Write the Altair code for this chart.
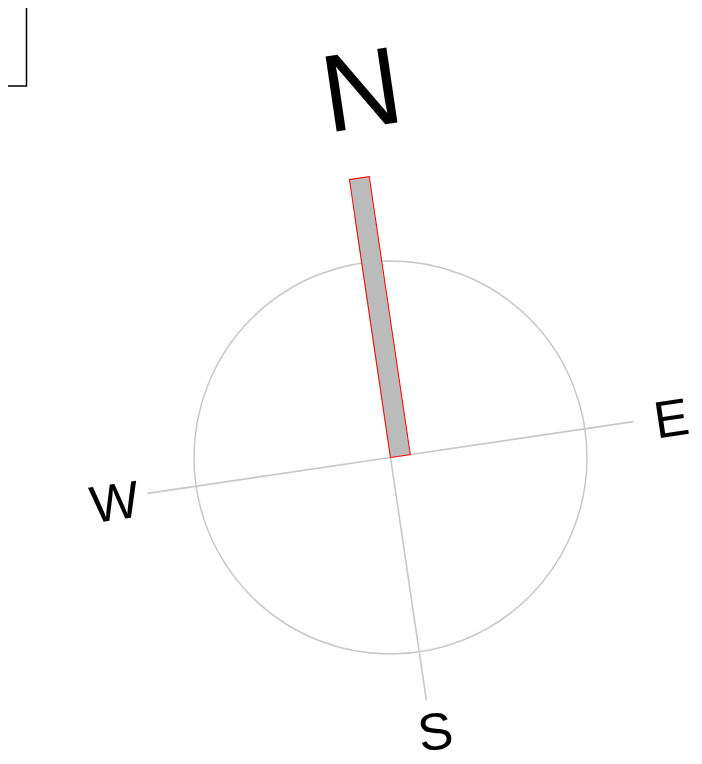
import math
import altair as alt
import pandas as pd

# ---- data ----
directions = ["N", "E", "S", "W"]
bearings = [0, 90, 180, 270]          # degrees clockwise from north
rotation = 8.4                          # compass rotated counter-clockwise (deg)
bar_bearing = [0]                       # direction of the bar
bar_value = [1.43]                      # bar length in units of circle radius
circle_radius = [1.0]
axis_length = 1.25
label_radius = 1.435
n_label_radius = 1.85

# ---- layout constants (pixels) ----
W, H = 686, 748
PX = 196.5          # pixels per unit
CX, CY = 382.5, 449.5

xdom = [-CX / PX, (W - CX) / PX]
ydom = [-(H - CY) / PX, CY / PX]
xs = alt.Scale(domain=xdom, nice=False, zero=False)
ys = alt.Scale(domain=ydom, nice=False, zero=False)
X = lambda f: alt.X(f, type="quantitative", scale=xs, axis=None)
Y = lambda f: alt.Y(f, type="quantitative", scale=ys, axis=None)

dirs = pd.DataFrame({"dir": directions, "bearing": bearings})

# circle
circ = pd.DataFrame({"r": circle_radius, "x": [0.0], "y": [0.0]})
circle = alt.Chart(circ).transform_calculate(
    s=f"pow(2*datum.r*{PX}, 2)"
).mark_point(shape="circle", filled=False, stroke="#c8c8c8", strokeWidth=1.5, opacity=1).encode(
    x=X("x"), y=Y("y"), size=alt.Size("s:Q", scale=None)
)

# axis lines
lines = alt.Chart(dirs).transform_calculate(
    a=f"(datum.bearing - {rotation}) * PI / 180",
    x0="0", y0="0",
    x1=f"{axis_length} * sin(datum.a)",
    y1=f"{axis_length} * cos(datum.a)",
).mark_rule(color="#c8c8c8", strokeWidth=1.6).encode(
    x=X("x0"), y=Y("y0"), x2="x1:Q", y2="y1:Q"
)

# bar
bar_len_px = bar_value[0] * PX
frac = 20.0 / bar_len_px
bar_path = f"M0,0 L{frac:.4f},0 L{frac:.4f},-1 L0,-1 Z"
bardf = pd.DataFrame({"bearing": bar_bearing, "value": bar_value, "x": [0.0], "y": [0.0]})
bar = alt.Chart(bardf).transform_calculate(
    s=f"pow(2*datum.value*{PX}, 2)"
).mark_point(
    shape=bar_path, filled=True, fill="#bbbbbb", stroke="red", strokeWidth=1,
    opacity=1, angle=(bar_bearing[0] - rotation) % 360,
).encode(x=X("x"), y=Y("y"), size=alt.Size("s:Q", scale=None))


def label(d, radius, size, dx, dy):
    return alt.Chart(dirs).transform_filter(f"datum.dir == '{d}'").transform_calculate(
        a=f"(datum.bearing - {rotation}) * PI / 180",
        lx=f"{radius} * sin(datum.a)",
        ly=f"{radius} * cos(datum.a)",
    ).mark_text(
        font="Liberation Sans", fontSize=size, align="center", baseline="middle",
        angle=(360 - rotation) % 360, color="black", dx=dx, dy=dy,
    ).encode(x=X("lx"), y=Y("ly"), text="dir:N")


lab_n = label("N", n_label_radius, 110, 25, 0)
lab_e = label("E", label_radius, 52, 1.5, 4)
lab_s = label("S", label_radius, 52, 4.4, -2.4)
lab_w = label("W", label_radius, 52, 2.7, 5.5)

# partially visible box at top-left
box = alt.Chart(pd.DataFrame({"k": [0]})).mark_rect(
    fill=None, stroke="black", strokeWidth=1.5, clip=False
).encode(x=alt.value(-60), x2=alt.value(18.5), y=alt.value(-60), y2=alt.value(78))

chart = alt.layer(circle, lines, bar, lab_n, lab_e, lab_s, lab_w, box).properties(
    width=W, height=H, padding=0, autosize=alt.AutoSizeParams(type="none"),
    background="white",
).configure_view(stroke=None)

chart.save("out.html", embed_options={"renderer": "svg", "actions": False})
